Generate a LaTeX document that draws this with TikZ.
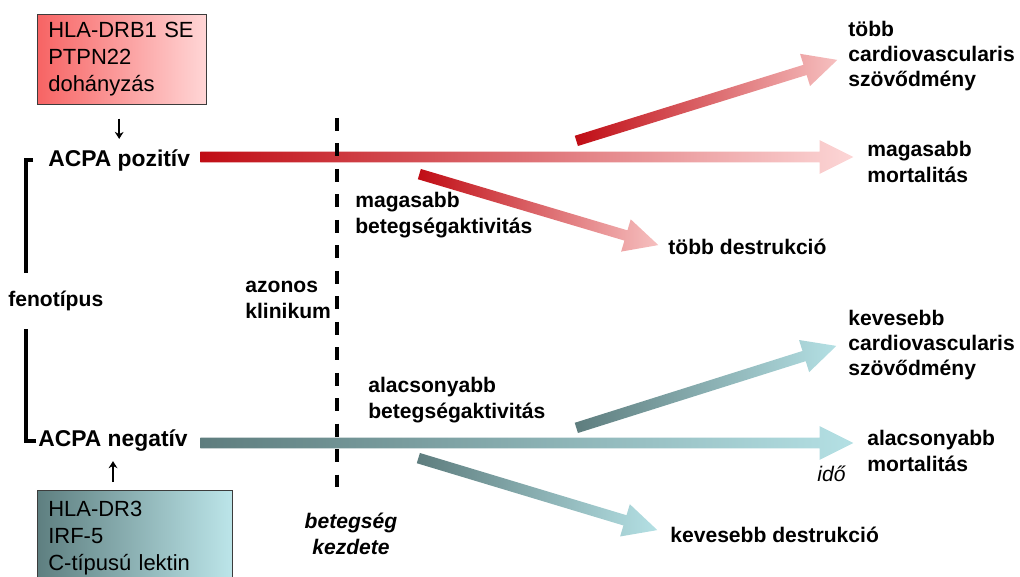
\documentclass[tikz,border=0pt]{standalone}
\usepackage{fontspec}
\setmainfont{Liberation Sans}
\usepackage{tikz}
\usetikzlibrary{arrows.meta, positioning, calc, shapes.arrows}
\definecolor{acpared}{RGB}{192,12,20}
\definecolor{acpapink}{RGB}{252,214,214}
\definecolor{diagpink}{RGB}{246,192,192}
\definecolor{acpateal}{RGB}{94,125,126}
\definecolor{acpaaqua}{RGB}{180,224,228}
\definecolor{boxred}{RGB}{247,100,100}
\definecolor{boxpink}{RGB}{255,214,214}
\definecolor{boxteal}{RGB}{94,127,128}
\definecolor{boxaqua}{RGB}{188,229,233}
\definecolor{boxborder}{RGB}{60,60,60}

\begin{document}
\begin{tikzpicture}[x=0.02cm, y=-0.02cm,
    genebox/.style={draw=boxborder, thin, anchor=north west, align=left,
      inner xsep=0.22cm, font=\fontsize{12.5}{15.3}\selectfont},
    phenolabel/.style={font=\bfseries\fontsize{13}{15.6}\selectfont,
      anchor=west, inner sep=0pt},
    outcome/.style={font=\bfseries\fontsize{12}{14.4}\selectfont,
      align=left, anchor=west, inner sep=0pt},
    gradarrow/.style={single arrow, inner xsep=0pt, inner ysep=0.1cm,
      single arrow head extend=0.23cm, single arrow tip angle=53,
      pos=0, sloped, anchor=tail},
    genearrow/.style={-{Stealth[length=4pt, width=5pt]}, line width=0.9pt},
    bracket/.style={line width=1.9pt},
    onsetline/.style={line width=2.4pt, dash pattern=on 7.3pt off 7.2pt},
]
\useasboundingbox (0,0) rectangle (1020,577);
\node[genebox, left color=boxred, right color=boxpink,
    text width=2.94cm, minimum height=1.8cm] (gene1) at (37,14)
    {HLA-DRB1 SE\\PTPN22\\dohányzás};
\node[genebox, left color=boxteal, right color=boxaqua,
    text width=3.46cm, minimum height=1.92cm] (gene2) at (37,490)
    {HLA-DR3\\IRF-5\\C-típusú lektin};
\node[phenolabel] (pos) at (48,160) {ACPA pozitív};
\node[phenolabel] (neg) at (38,441) {ACPA negatív};
\node[outcome, inner ysep=0.36cm] (feno) at (8,301) {fenotípus};
\node[outcome] (clin) at (245,300) {azonos\\klinikum};
\node[outcome] (hiact) at (355,215) {magasabb\\betegségaktivitás};
\node[outcome] (loact) at (368,400) {alacsonyabb\\betegségaktivitás};
\node[outcome] (hidestr) at (668,247) {több destrukció};
\node[outcome] (lodestr) at (670,535) {kevesebb destrukció};
\node[outcome] (hicv) at (848,56) {több\\cardiovascularis\\szövődmény};
\node[outcome] (locv) at (848,345) {kevesebb\\cardiovascularis\\szövődmény};
\node[outcome] (himort) at (867,162) {magasabb\\mortalitás};
\node[outcome] (lomort) at (867,451) {alacsonyabb\\mortalitás};
\node[outcome, font=\itshape\fontsize{12}{14.4}\selectfont] (ido) at (817,474) {idő};
\node[outcome, anchor=center, align=center, inner ysep=0.3cm,
    font=\bfseries\itshape\fontsize{12}{14.4}\selectfont] (onset) at (351,534)
    {betegség\\kezdete};
\coordinate (redstart) at (200,157);
\coordinate (redtip) at (853,157);
\coordinate (cvupstart) at (576,141);
\coordinate (cvuptip) at (837,60);
\coordinate (destrupstart) at (419,174);
\coordinate (destruptip) at (658,245);
\coordinate (tealstart) at (200,443);
\coordinate (tealtip) at (853,443);
\coordinate (cvlostart) at (576,428);
\coordinate (cvlotip) at (836,346);
\coordinate (destrlostart) at (418,458);
\coordinate (destrlotip) at (657,530);
\coordinate (dtop) at (337,118);
\path let \p1=($(redtip)-(redstart)$) in (redstart) -- (redtip)
    node[gradarrow, minimum height={veclen(\x1,\y1)},
      left color=acpared, right color=acpapink] (posarrow) {};
\path let \p1=($(cvuptip)-(cvupstart)$) in (cvupstart) -- (cvuptip)
    node[gradarrow, minimum height={veclen(\x1,\y1)},
      left color=acpared, right color=diagpink] (cvuparrow) {};
\path let \p1=($(destruptip)-(destrupstart)$) in (destrupstart) -- (destruptip)
    node[gradarrow, minimum height={veclen(\x1,\y1)},
      left color=acpared, right color=diagpink] (destruparrow) {};
\path let \p1=($(tealtip)-(tealstart)$) in (tealstart) -- (tealtip)
    node[gradarrow, minimum height={veclen(\x1,\y1)},
      left color=acpateal, right color=acpaaqua] (negarrow) {};
\path let \p1=($(cvlotip)-(cvlostart)$) in (cvlostart) -- (cvlotip)
    node[gradarrow, minimum height={veclen(\x1,\y1)},
      left color=acpateal, right color=acpaaqua] (cvloarrow) {};
\path let \p1=($(destrlotip)-(destrlostart)$) in (destrlostart) -- (destrlotip)
    node[gradarrow, minimum height={veclen(\x1,\y1)},
      left color=acpateal, right color=acpaaqua] (destrloarrow) {};
\draw[onsetline] (dtop) -- (dtop |- onset.north);
\draw[genearrow, shorten <=0.28cm, shorten >=0.2cm]
    (pos.north |- gene1.south) -- (pos.north);
\draw[genearrow, shorten <=0.16cm, shorten >=0.18cm]
    (neg.south |- gene2.north) -- (neg.south);
\draw[bracket] ([xshift=-0.3cm]pos.west) -- ++(-0.14cm,0) coordinate (brtop)
    -- (brtop |- feno.north);
\draw[bracket] ([xshift=-0.04cm]neg.west) -- ++(-0.2cm,0) coordinate (brbot)
    -- (brbot |- feno.south);
\end{tikzpicture}
\end{document}
